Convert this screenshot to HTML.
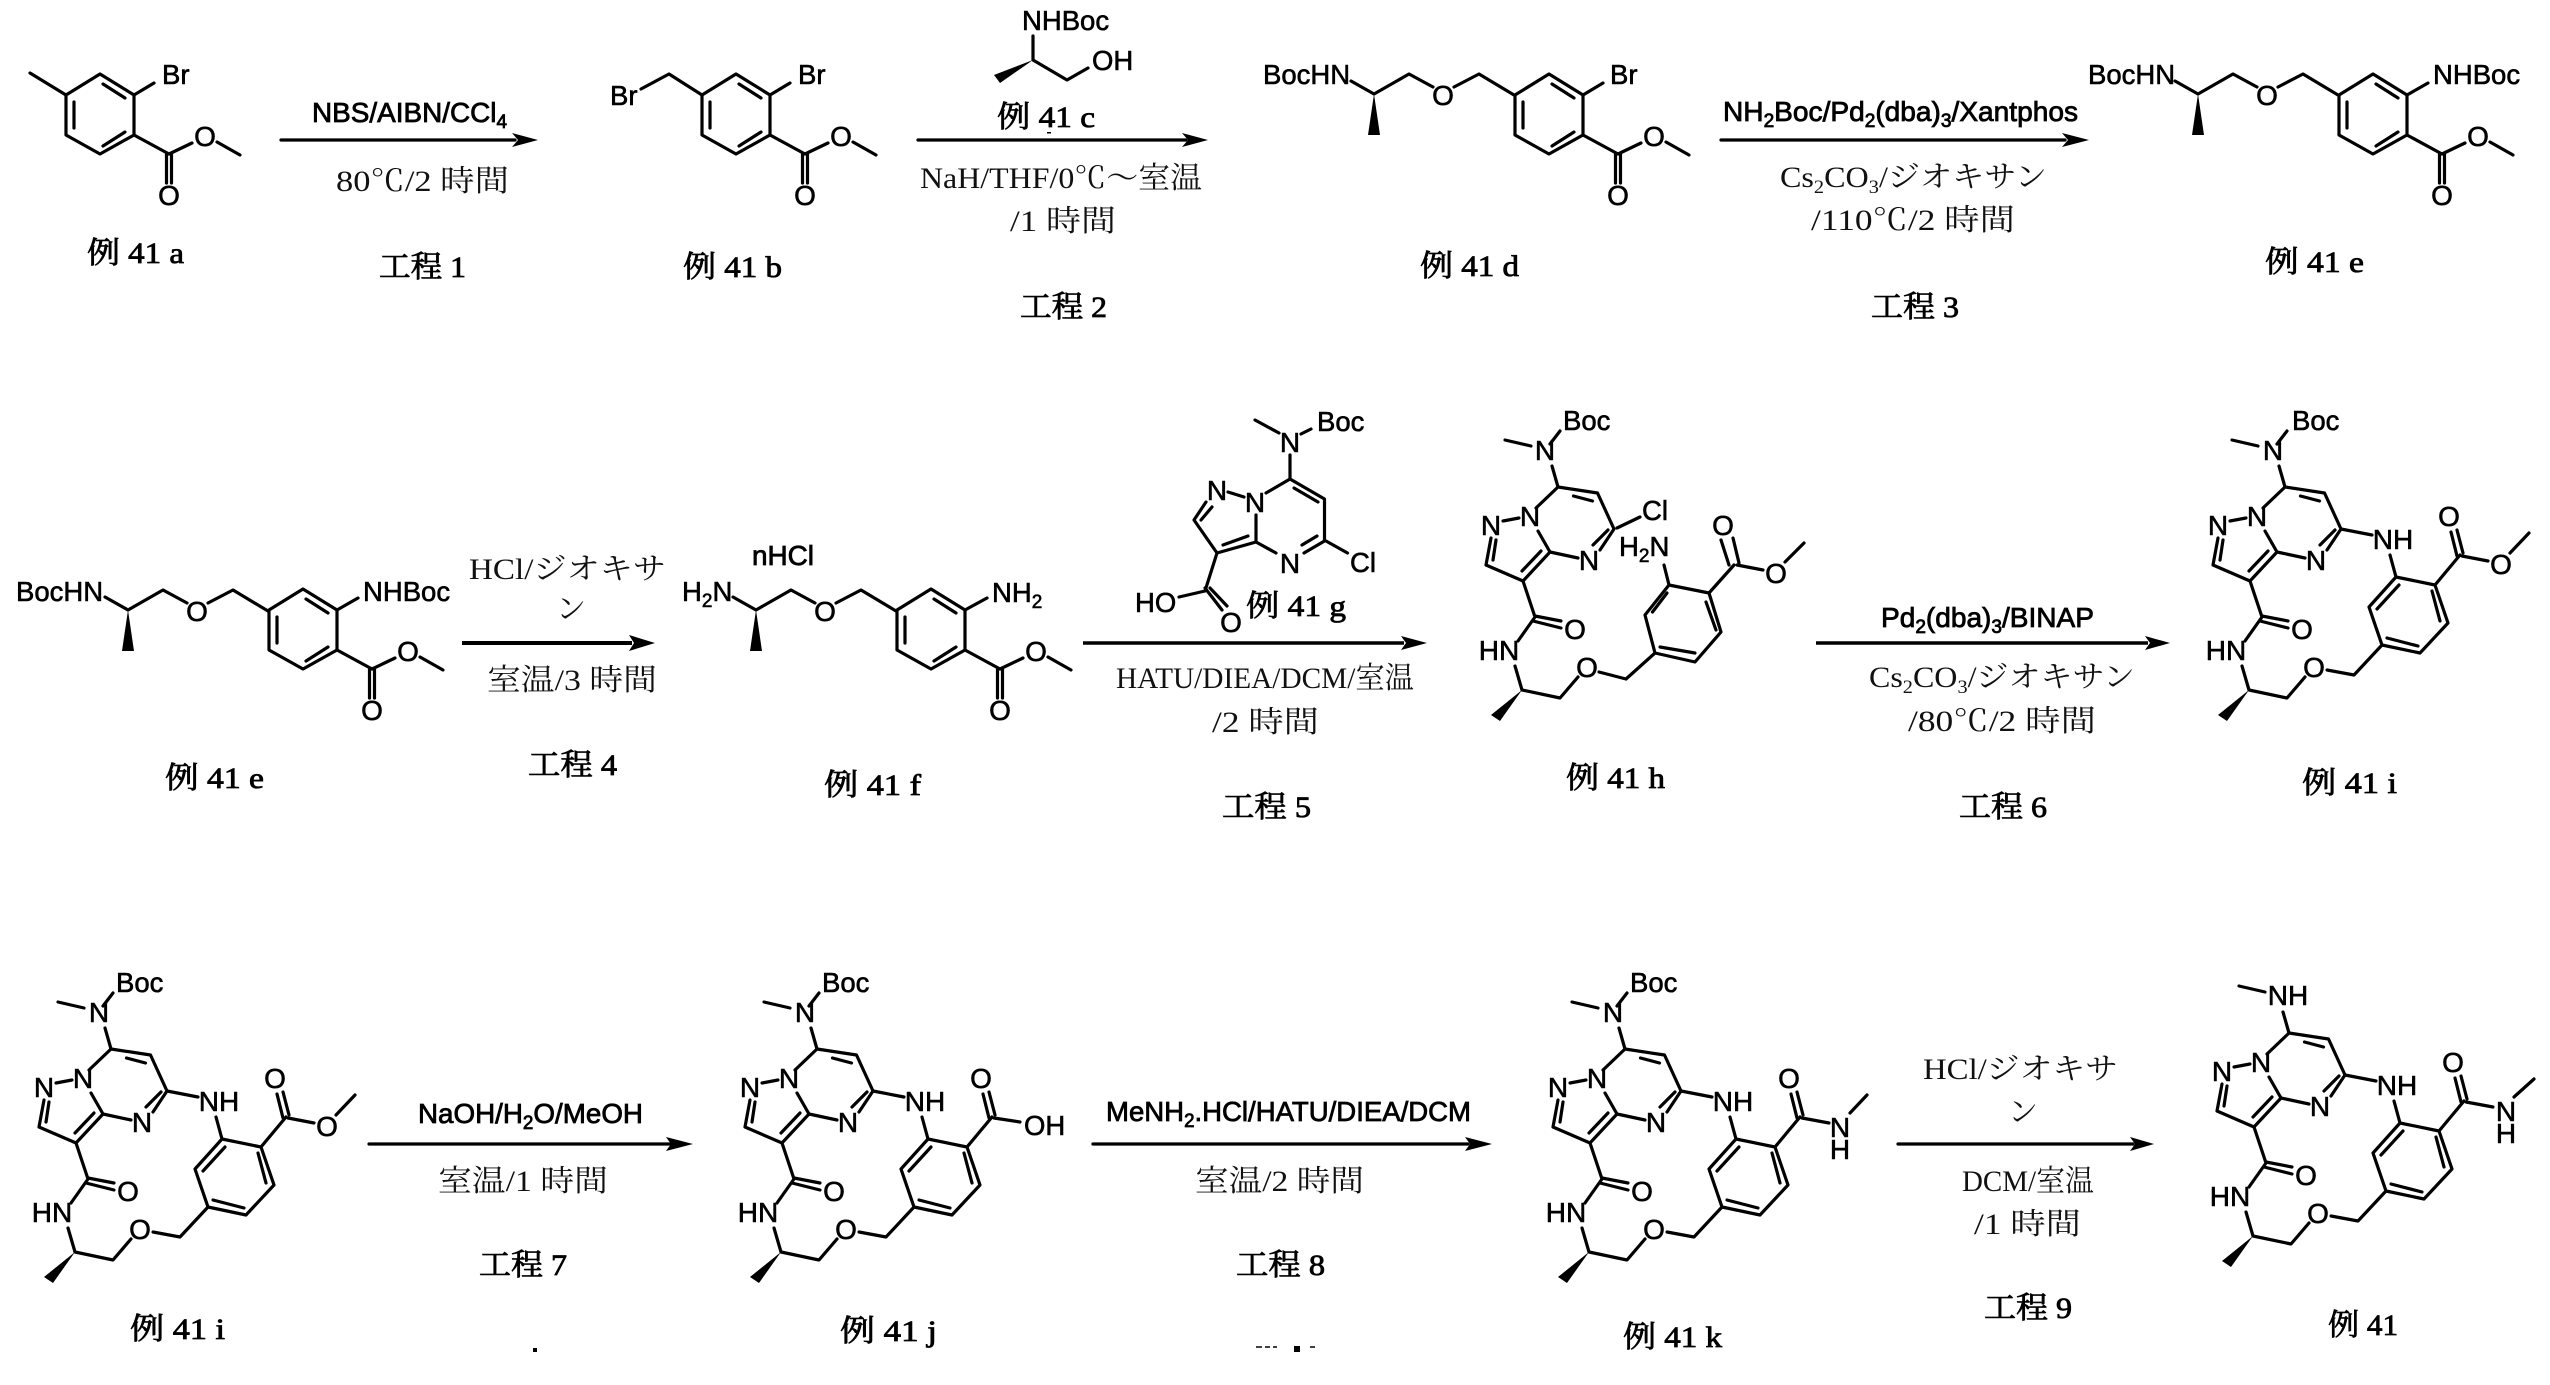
<!DOCTYPE html>
<html lang="ja"><head><meta charset="utf-8"><title>例 41</title>
<style>
html,body{margin:0;padding:0;background:#fff}
svg{display:block}
.b{fill:none;stroke:#000;stroke-width:3.2;stroke-linecap:round;stroke-linejoin:round}
.a{font:28px "Liberation Sans",sans-serif;text-anchor:middle;fill:#000;stroke:#000;stroke-width:.6}
.s{font:27.500px "Liberation Sans",sans-serif;fill:#000;stroke:#000;stroke-width:.6}
.r{font:28px "Liberation Sans",sans-serif;fill:#000;stroke:#000;stroke-width:.8}
.c{font:30px "Liberation Serif","Noto Serif CJK SC",serif;fill:#111}
.l{font:30px "Liberation Serif","Noto Serif CJK SC",serif;fill:#000;stroke:#000;stroke-width:.8}
.u{font-size:19px}
</style></head><body>
<svg width="2550" height="1385" viewBox="0 0 2550 1385" xmlns="http://www.w3.org/2000/svg">
<defs>
<g id="ar">
<path class="b" d="M66,95L100,74L134,95L134,135L100,154L66,135Z M103,84L125,98 M125,132L103,146 M74,102L74,128 M134,135L169,154 M166.500,154L166.500,183 M171.500,154L171.500,183 M169,154L192,143 M217,142L240,155"/>
</g>
<g id="ch">
<path class="b" d="M1351,81L1374,94L1409,74L1433,87 M1454,87L1479,74L1514,95"/>
<polygon points="1374,94 1368,135 1380,135" fill="#000"/>
</g>
<g id="core">
<path class="b" d="M0,0L-22,21 M0,0L39.500,6L56,42L42,63 M15.500,9L34.500,14 M50,43L35,58 M-8,65L20,71 M-20,44L-8,65L-35,94L-23,130 M-17,64L-36,84 M-55,34L-39,31 M-67,51L-72,78L-35,94 M-62,53L-65,73 M-23,129L3,134 M-25,134L3,141 M-23,130L-40,154 M-43,179L-36,203L2,211L20,190"/>
<polygon points="-36,203 -67,228 -58,234" fill="#000"/>
</g>
<g id="bt"><path class="b" d="M0,0L-6,-21 M-53,-47L-27,-41 M-8,-43L2,-56"/></g>
<g id="low">
<path class="b" d="M42,183L69,188L97,158L135,166L163,136L150,98L111,90L84,120L97,158 M102,151L133,159 M147,104L155,134 M114,98L92,122 M56,42L87,48 M105,68L111,90 M150,98L175,68 M172,69L166,45 M178,66L172,43"/>
</g>
<g id="em"><path class="b" d="M177,69L203,74 M225,66L244,46"/></g>
</defs>
<rect width="2550" height="1385" fill="#fff"/>

<!-- Row 1 -->
<use href="#ar"/>
<path class="b" d="M30,73L66,95 M134,95L154,83"/>
<text class="s" x="162" y="84">Br</text>
<text class="a" x="205" y="146">O</text><text class="a" x="169" y="205">O</text>
<text class="l" x="87" y="263" textLength="97" lengthAdjust="spacingAndGlyphs">例 41 a</text>

<path class="b" d="M281,140L515,140"/><polygon points="538,140 512,133 518,140 512,147" fill="#000"/>
<text class="r" x="312" y="122" textLength="195" lengthAdjust="spacingAndGlyphs">NBS/AIBN/CCl<tspan class="u" dy="6">4</tspan></text>
<text class="c" x="336" y="191" textLength="173" lengthAdjust="spacingAndGlyphs">80℃/2 時間</text>
<text class="l" x="379" y="277" textLength="87" lengthAdjust="spacingAndGlyphs">工程 1</text>

<use href="#ar" x="636"/>
<path class="b" d="M641,89L669,74L702,95 M770,95L790,83"/>
<text class="s" x="798" y="84">Br</text><text class="s" x="610" y="105">Br</text>
<text class="a" x="841" y="146">O</text><text class="a" x="805" y="205">O</text>
<text class="l" x="683" y="277" textLength="99" lengthAdjust="spacingAndGlyphs">例 41 b</text>

<text class="s" x="1022" y="30">NHBoc</text>
<path class="b" d="M1033,36L1033,60L1067,80L1088,68"/>
<polygon points="1033,60 994,75 1000,83" fill="#000"/>
<text class="s" x="1092" y="70">OH</text>
<text class="l" x="997" y="127" textLength="98" lengthAdjust="spacingAndGlyphs">例 41 c</text>
<rect x="1047" y="132" width="4" height="1.500" fill="#000"/>
<path class="b" d="M918,140L1186,140"/><polygon points="1208,140 1182,133 1188,140 1182,147" fill="#000"/>
<text class="c" x="920" y="188" textLength="282" lengthAdjust="spacingAndGlyphs">NaH/THF/0℃～室温</text>
<text class="c" x="1010" y="231" textLength="106" lengthAdjust="spacingAndGlyphs">/1 時間</text>
<text class="l" x="1020" y="317" textLength="87" lengthAdjust="spacingAndGlyphs">工程 2</text>

<use href="#ch"/>
<use href="#ar" x="1449"/>
<path class="b" d="M1583,95L1603,83"/>
<text class="s" x="1263" y="84">BocHN</text>
<text class="a" x="1443" y="105">O</text>
<text class="s" x="1610" y="84">Br</text>
<text class="a" x="1654" y="146">O</text><text class="a" x="1618" y="205">O</text>
<text class="l" x="1420" y="276" textLength="99" lengthAdjust="spacingAndGlyphs">例 41 d</text>

<path class="b" d="M1721,140L2065,140"/><polygon points="2089,140 2062,133 2068,140 2062,147" fill="#000"/>
<text class="r" x="1723" y="121" textLength="355" lengthAdjust="spacingAndGlyphs">NH<tspan class="u" dy="6">2</tspan><tspan dy="-6">Boc/Pd</tspan><tspan class="u" dy="6">2</tspan><tspan dy="-6">(dba)</tspan><tspan class="u" dy="6">3</tspan><tspan dy="-6">/Xantphos</tspan></text>
<text class="c" x="1780" y="187" textLength="267" lengthAdjust="spacingAndGlyphs">Cs<tspan class="u" dy="6">2</tspan><tspan dy="-6">CO</tspan><tspan class="u" dy="6">3</tspan><tspan dy="-6">/ジオキサン</tspan></text>
<text class="c" x="1811" y="230" textLength="204" lengthAdjust="spacingAndGlyphs">/110℃/2 時間</text>
<text class="l" x="1871" y="317" textLength="88" lengthAdjust="spacingAndGlyphs">工程 3</text>

<use href="#ch" x="824"/>
<use href="#ar" x="2273"/>
<path class="b" d="M2407,95L2428,83"/>
<text class="s" x="2088" y="84">BocHN</text>
<text class="a" x="2267" y="105">O</text>
<text class="s" x="2433" y="84">NHBoc</text>
<text class="a" x="2478" y="146">O</text><text class="a" x="2442" y="205">O</text>
<text class="l" x="2265" y="272" textLength="99" lengthAdjust="spacingAndGlyphs">例 41 e</text>

<!-- Row 2 -->
<use href="#ch" x="-1246" y="516"/>
<use href="#ar" x="203" y="515"/>
<path class="b" d="M337,610L358,598"/>
<text class="s" x="16" y="601">BocHN</text>
<text class="a" x="197" y="621">O</text>
<text class="s" x="363" y="601">NHBoc</text>
<text class="a" x="408" y="661">O</text><text class="a" x="372" y="720">O</text>
<text class="l" x="165" y="788" textLength="99" lengthAdjust="spacingAndGlyphs">例 41 e</text>

<text class="c" x="469" y="579" textLength="197" lengthAdjust="spacingAndGlyphs">HCl/ジオキサ</text>
<text class="c" x="556" y="619">ン</text>
<path d="M462,643L632,643" fill="none" stroke="#000" stroke-width="4"/><polygon points="655,643 629,635 634,643 629,651" fill="#000"/>
<text class="c" x="487" y="690" textLength="170" lengthAdjust="spacingAndGlyphs">室温/3 時間</text>
<text class="l" x="528" y="775" textLength="89" lengthAdjust="spacingAndGlyphs">工程 4</text>

<text class="r" x="752" y="565" textLength="62" lengthAdjust="spacingAndGlyphs">nHCl</text>
<text class="s" x="682" y="601">H<tspan class="u" dy="6">2</tspan><tspan dy="-6">N</tspan></text>
<use href="#ch" x="-618" y="516"/>
<use href="#ar" x="831" y="515"/>
<path class="b" d="M965,610L987,598"/>
<text class="a" x="825" y="621">O</text>
<text class="s" x="992" y="602">NH<tspan class="u" dy="6">2</tspan></text>
<text class="a" x="1036" y="661">O</text><text class="a" x="1000" y="720">O</text>
<text class="l" x="824" y="795" textLength="97" lengthAdjust="spacingAndGlyphs">例 41 f</text>

<path class="b" d="M1255,420L1279,433 M1301,434L1311,429 M1290,455L1290,479L1266,493 M1290,479L1324.500,499L1324.500,541L1304,553 M1294,488L1318,502 M1317,536L1302,545 M1256,515L1256,542L1276,553 M1228,492L1244,497 M1256,542L1217,553 M1248,536L1223,545 M1217,553L1194,520L1206,502 M1201,520L1212,507 M1217,553L1205,591L1179,597 M1205,588L1222,610 M1210,588L1227,606 M1326,541L1347.500,553"/>
<text class="a" x="1290" y="452">N</text><text class="s" x="1317" y="431">Boc</text>
<text class="a" x="1255" y="512">N</text><text class="a" x="1217" y="500">N</text>
<text class="a" x="1290" y="573">N</text><text class="s" x="1350" y="572">Cl</text>
<text class="s" x="1135" y="612">HO</text><text class="a" x="1231" y="632">O</text>
<text class="l" x="1246" y="616" textLength="100" lengthAdjust="spacingAndGlyphs">例 41 g</text>
<path d="M1083,643L1404,643" fill="none" stroke="#000" stroke-width="3.500"/><polygon points="1427,643 1401,636 1406,643 1401,650" fill="#000"/>
<text class="c" x="1116" y="688" textLength="298" lengthAdjust="spacingAndGlyphs">HATU/DIEA/DCM/室温</text>
<text class="c" x="1212" y="732" textLength="107" lengthAdjust="spacingAndGlyphs">/2 時間</text>
<text class="l" x="1222" y="817" textLength="89" lengthAdjust="spacingAndGlyphs">工程 5</text>

<g transform="translate(1558,487)">
<use href="#core"/><use href="#bt"/>
<path class="b" d="M41,185L68,192L97,166L137,175L163,145L151,106L111,98L87,128L97,166 M102,160L137,166 M148,115L158,143 M109,106L94.500,125 M151,106L176,78 M175,51L181,76 M163,53L171,78 M179,78L205,83 M227,75L246,56 M106,78L111,98 M59,41L82,30"/>
<text class="a" x="-13" y="-27">N</text><text class="s" x="5" y="-57">Boc</text>
<text class="a" x="-28" y="39">N</text><text class="a" x="-67" y="48">N</text><text class="a" x="31" y="83">N</text>
<text class="a" x="17" y="152">O</text><text class="a" x="-59" y="173">HN</text><text class="a" x="29" y="190">O</text>
<text class="a" x="165" y="48">O</text><text class="a" x="218" y="96">O</text>
</g>
<text class="s" x="1642" y="520">Cl</text>
<text class="s" x="1619" y="556">H<tspan class="u" dy="6">2</tspan><tspan dy="-6">N</tspan></text>
<text class="l" x="1566" y="788" textLength="99" lengthAdjust="spacingAndGlyphs">例 41 h</text>

<path d="M1816,643L2148,643" fill="none" stroke="#000" stroke-width="3.500"/><polygon points="2170,643 2145,636 2150,643 2145,650" fill="#000"/>
<text class="r" x="1881" y="627" textLength="213" lengthAdjust="spacingAndGlyphs">Pd<tspan class="u" dy="6">2</tspan><tspan dy="-6">(dba)</tspan><tspan class="u" dy="6">3</tspan><tspan dy="-6">/BINAP</tspan></text>
<text class="c" x="1869" y="687" textLength="266" lengthAdjust="spacingAndGlyphs">Cs<tspan class="u" dy="6">2</tspan><tspan dy="-6">CO</tspan><tspan class="u" dy="6">3</tspan><tspan dy="-6">/ジオキサン</tspan></text>
<text class="c" x="1908" y="731" textLength="188" lengthAdjust="spacingAndGlyphs">/80℃/2 時間</text>
<text class="l" x="1959" y="817" textLength="88" lengthAdjust="spacingAndGlyphs">工程 6</text>

<g transform="translate(2285,487)">
<use href="#core"/><use href="#bt"/><use href="#low"/><use href="#em"/>
<text class="a" x="-12" y="-27">N</text><text class="s" x="7" y="-57">Boc</text>
<text class="a" x="-28" y="39">N</text><text class="a" x="-67" y="48">N</text><text class="a" x="31" y="83">N</text>
<text class="a" x="17" y="152">O</text><text class="a" x="-59" y="173">HN</text><text class="a" x="29" y="190">O</text>
<text class="a" x="108" y="62">NH</text><text class="a" x="164" y="39">O</text><text class="a" x="216" y="87">O</text>
</g>
<text class="l" x="2302" y="793" textLength="95" lengthAdjust="spacingAndGlyphs">例 41 i</text>

<!-- Row 3 -->
<g transform="translate(111,1049)">
<use href="#core"/><use href="#bt"/><use href="#low"/><use href="#em"/>
<text class="a" x="-12" y="-27">N</text><text class="s" x="5" y="-57">Boc</text>
<text class="a" x="-28" y="39">N</text><text class="a" x="-67" y="48">N</text><text class="a" x="31" y="83">N</text>
<text class="a" x="17" y="152">O</text><text class="a" x="-59" y="173">HN</text><text class="a" x="29" y="190">O</text>
<text class="a" x="108" y="62">NH</text><text class="a" x="164" y="39">O</text><text class="a" x="216" y="87">O</text>
</g>
<text class="l" x="130" y="1339" textLength="95" lengthAdjust="spacingAndGlyphs">例 41 i</text>

<path class="b" d="M369,1144L670,1144"/><polygon points="693,1144 666,1137 671,1144 666,1151" fill="#000"/>
<text class="r" x="418" y="1123" textLength="225" lengthAdjust="spacingAndGlyphs">NaOH/H<tspan class="u" dy="6">2</tspan><tspan dy="-6">O/MeOH</tspan></text>
<text class="c" x="438" y="1191" textLength="170" lengthAdjust="spacingAndGlyphs">室温/1 時間</text>
<text class="l" x="479" y="1275" textLength="88" lengthAdjust="spacingAndGlyphs">工程 7</text>
<rect x="533" y="1348" width="4" height="4" fill="#000"/>

<g transform="translate(817,1049)">
<use href="#core"/><use href="#bt"/><use href="#low"/>
<path class="b" d="M177,69L203,73"/>
<text class="a" x="-12" y="-27">N</text><text class="s" x="5" y="-57">Boc</text>
<text class="a" x="-28" y="39">N</text><text class="a" x="-67" y="48">N</text><text class="a" x="31" y="83">N</text>
<text class="a" x="17" y="152">O</text><text class="a" x="-59" y="173">HN</text><text class="a" x="29" y="190">O</text>
<text class="a" x="108" y="62">NH</text><text class="a" x="164" y="39">O</text><text class="s" x="207" y="86">OH</text>
</g>
<text class="l" x="840" y="1341" textLength="97" lengthAdjust="spacingAndGlyphs">例 41 j</text>

<path class="b" d="M1093,1144L1468,1144"/><polygon points="1492,1144 1465,1137 1470,1144 1465,1151" fill="#000"/>
<text class="r" x="1106" y="1121" textLength="365" lengthAdjust="spacingAndGlyphs">MeNH<tspan class="u" dy="6">2</tspan><tspan dy="-6">.HCl/HATU/DIEA/DCM</tspan></text>
<text class="c" x="1195" y="1191" textLength="169" lengthAdjust="spacingAndGlyphs">室温/2 時間</text>
<text class="l" x="1236" y="1275" textLength="89" lengthAdjust="spacingAndGlyphs">工程 8</text>
<path d="M1256,1347h6M1265,1347h5M1273,1347h4M1310,1347h5" stroke="#000" stroke-width="1.500" fill="none"/>
<rect x="1294" y="1346" width="6" height="6" fill="#000"/>

<g transform="translate(1625,1049)">
<use href="#core"/><use href="#bt"/><use href="#low"/>
<path class="b" d="M177,69L204,74 M225,64L242,46"/>
<text class="a" x="-12" y="-27">N</text><text class="s" x="5" y="-57">Boc</text>
<text class="a" x="-28" y="39">N</text><text class="a" x="-67" y="48">N</text><text class="a" x="31" y="83">N</text>
<text class="a" x="17" y="152">O</text><text class="a" x="-59" y="173">HN</text><text class="a" x="29" y="190">O</text>
<text class="a" x="108" y="62">NH</text><text class="a" x="164" y="39">O</text>
<text class="a" x="215" y="88">N</text><text class="a" x="215" y="110">H</text>
</g>
<text class="l" x="1623" y="1347" textLength="99" lengthAdjust="spacingAndGlyphs">例 41 k</text>

<path class="b" d="M1898,1144L2133,1144"/><polygon points="2154,1144 2130,1137 2135,1144 2130,1151" fill="#000"/>
<text class="c" x="1923" y="1079" textLength="195" lengthAdjust="spacingAndGlyphs">HCl/ジオキサ</text>
<text class="c" x="2008" y="1122">ン</text>
<text class="c" x="1962" y="1191" textLength="132" lengthAdjust="spacingAndGlyphs">DCM/室温</text>
<text class="c" x="1974" y="1234" textLength="107" lengthAdjust="spacingAndGlyphs">/1 時間</text>
<text class="l" x="1984" y="1318" textLength="88" lengthAdjust="spacingAndGlyphs">工程 9</text>

<g transform="translate(2289,1033)">
<use href="#core"/><use href="#low"/>
<path class="b" d="M0,0L-6,-21 M-50,-47L-24,-41 M177,69L204,74 M225,64L245,46"/>
<text class="a" x="-1" y="-28">NH</text>
<text class="a" x="-28" y="39">N</text><text class="a" x="-67" y="48">N</text><text class="a" x="31" y="83">N</text>
<text class="a" x="17" y="152">O</text><text class="a" x="-59" y="173">HN</text><text class="a" x="29" y="190">O</text>
<text class="a" x="108" y="62">NH</text><text class="a" x="164" y="39">O</text>
<text class="a" x="217" y="88">N</text><text class="a" x="217" y="110">H</text>
</g>
<text class="l" x="2328" y="1335" textLength="70" lengthAdjust="spacingAndGlyphs">例 41</text>
</svg>
</body></html>
